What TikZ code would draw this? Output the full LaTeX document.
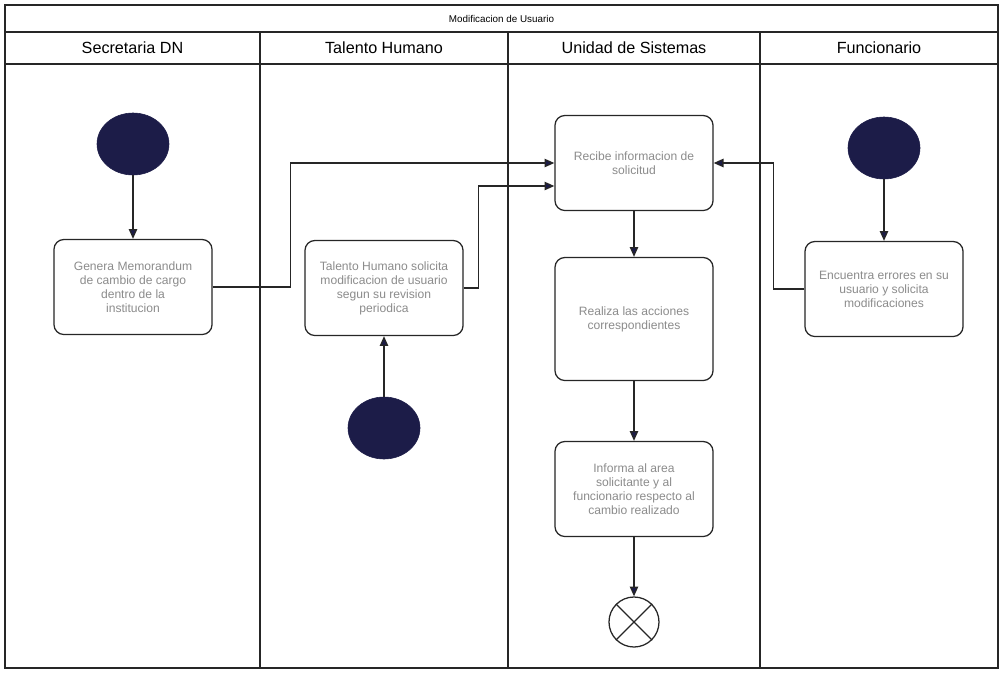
\documentclass[tikz,border=0pt]{standalone}
\usepackage{fontspec}
\setmainfont{Liberation Sans}
\usetikzlibrary{arrows.meta,calc,shapes.geometric}
\definecolor{navy}{HTML}{1C1C48}

\begin{document}
\begin{tikzpicture}[x=0.025cm, y=-0.025cm,
    lane/.style={draw=black!85, line width=0.8pt},
    act/.style={draw=black!85, line width=0.9pt, rounded corners=7pt, fill=white,
                minimum width=3.95cm, minimum height=2.375cm, inner sep=2pt,
                text=black!45, font=\fontsize{8.6}{10}\selectfont, align=center},
    ini/.style={ellipse, fill=navy, draw=navy, minimum width=1.8cm, minimum height=1.55cm},
    fin/.style={circle, draw=black!85, line width=0.9pt, minimum size=1.25cm},
    flow/.style={draw=black!85, line width=0.9pt, -{Triangle[length=7pt, width=6pt, fill=navy]}},
    head/.style={font=\fontsize{11.5}{13}\selectfont},
]
\useasboundingbox (0,0) rectangle (1001,672);

% Swimlane frame
\draw[lane] (5,5) rectangle (998,668);
\draw[lane] (5,32) -- (998,32);
\draw[lane] (5,64) -- (998,64);
\foreach \x in {260, 508, 760}{
  \draw[lane] (\x,32) -- (\x,668);
}
\node[font=\fontsize{7}{8}\selectfont] (titulo) at (501.5,18.5) {Modificacion de Usuario};
\foreach \x/\n/\t in {132.5/sec/Secretaria DN, 384/tal/Talento Humano,
                      634/uni/Unidad de Sistemas, 879/fun/Funcionario}{
  \node[head] (h\n) at (\x,48) {\t};
}

% Secretaria DN
\node[ini] (ini1) at (133,144) {};
\node[act] (gen) at (133,287) {Genera Memorandum\\de cambio de cargo\\dentro de la\\institucion};

% Talento Humano
\node[act] (tal) at (384,288) {Talento Humano solicita\\modificacion de usuario\\segun su revision\\periodica};
\node[ini] (ini2) at (384,428) {};

% Unidad de Sistemas
\node[act] (rec) at (634,163) {Recibe informacion de\\solicitud};
\node[act, minimum height=3.075cm] (rea) at (634,319) {Realiza las acciones\\correspondientes};
\node[act] (inf) at (634,489) {Informa al area\\solicitante y al\\funcionario respecto al\\cambio realizado};
\node[fin] (fin) at (634,622) {};
\draw[black!85, line width=0.9pt] (fin.north west) -- (fin.south east);
\draw[black!85, line width=0.9pt] (fin.north east) -- (fin.south west);

% Funcionario
\node[ini] (ini3) at (884,148) {};
\node[act] (enc) at (884,289) {Encuentra errores en su\\usuario y solicita\\modificaciones};

% Flujo
\draw[flow] (ini1) -- (gen);
\draw[flow] (ini2) -- (tal);
\draw[flow] (ini3) -- (enc);
\draw[flow] (gen.east) -- ++(78,0) |- (rec.west);
\draw[flow] (tal.east) -- ++(15,0) |- ($(rec.west)+(0,23)$);
\draw[flow] (enc.west) -- ++(-31,0) |- (rec.east);
\draw[flow] (rec) -- (rea);
\draw[flow] (rea) -- (inf);
\draw[flow] (inf) -- (fin);

\end{tikzpicture}
\end{document}
